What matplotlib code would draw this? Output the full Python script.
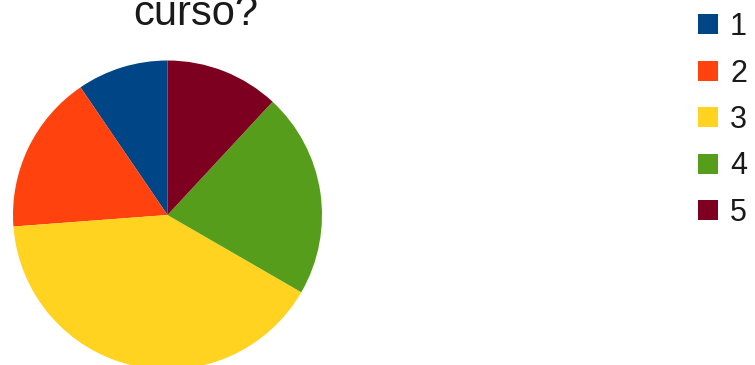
import matplotlib.pyplot as plt

# answers to the survey question, rating 1..5
labels = ['1', '2', '3', '4', '5']
counts = [4, 7, 17, 9, 5]
colors = ['#004586', '#ff420e', '#ffd320', '#579d1c', '#7e0021']
title = 'curso?'

plt.rcParams['font.family'] = ['Liberation Sans', 'DejaVu Sans']

W, H = 755, 365
fig = plt.figure(figsize=(W / 100, H / 100), dpi=100)

# pie placed in pixel units: centre (167.5, 215), radius 154.5
cx, cy, r = 167.5, 215, 154.5
ax = fig.add_axes([(cx - r) / W, (H - cy - r) / H, 2 * r / W, 2 * r / H])
wedges, _ = ax.pie(counts, colors=colors, startangle=90, counterclock=True,
                   wedgeprops=dict(linewidth=0))
ax.set_xlim(-1, 1)
ax.set_ylim(-1, 1)
ax.set_aspect('auto')
ax.axis('off')

fig.text(196 / W, (H - 25) / H, title, ha='center', va='baseline',
         fontsize=30, color='#1a1a1a')

leg = fig.legend(wedges, labels, loc='upper left',
                 bbox_to_anchor=(698 / W, (H - 12) / H),
                 frameon=False, fontsize=22, handlelength=0.65,
                 handleheight=0.65, handletextpad=0.4, labelspacing=0.54,
                 borderpad=0, borderaxespad=0)
for t in leg.get_texts():
    t.set_color('#1a1a1a')

fig.savefig('out.png', dpi=100)
